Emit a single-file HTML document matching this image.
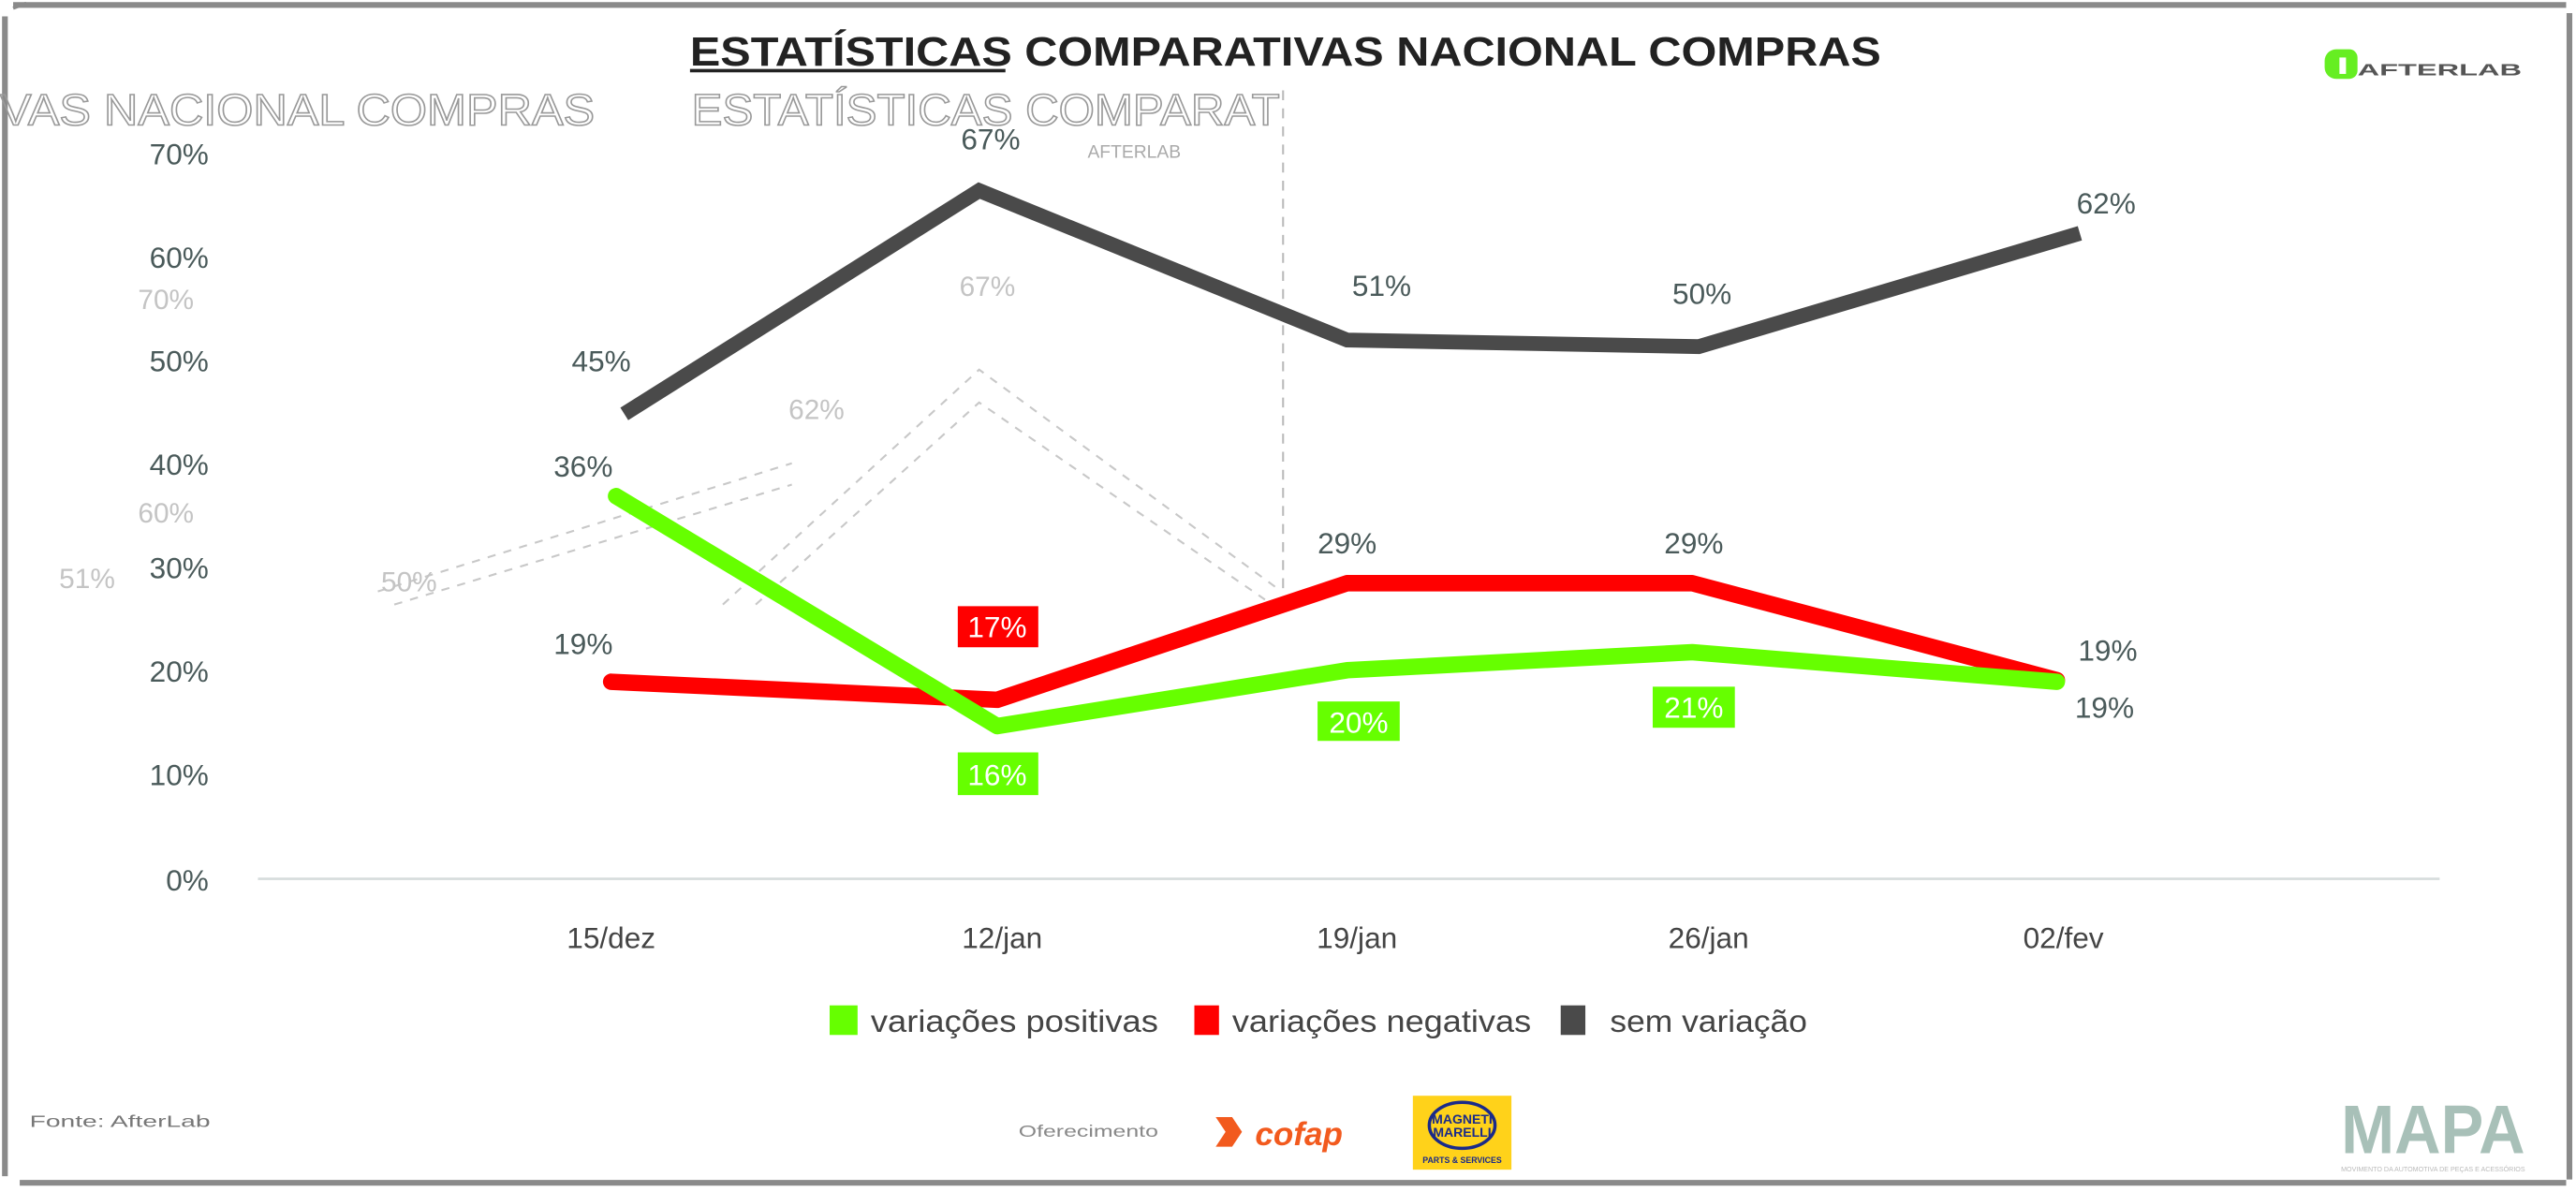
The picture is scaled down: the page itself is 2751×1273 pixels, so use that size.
<!DOCTYPE html>
<html><head><meta charset="utf-8"><style>
html,body{margin:0;padding:0;background:#fff;}
svg{display:block;}
text{font-family:"Liberation Sans",sans-serif;}
</style></head><body>
<svg width="2751" height="1273" viewBox="0 0 1568 725.6" preserveAspectRatio="none" xmlns="http://www.w3.org/2000/svg">
<rect x="0" y="0" width="1568" height="725.6" fill="#fff"/>
<path d="M8,3 H1562 M1564,8 V718 M1562,720 H12 M3,716 V10" stroke="#8a8a8a" stroke-width="3.5" fill="none"/>
<path d="M8,5 L16,2" stroke="#8a8a8a" stroke-width="2"/>
<text x="0" y="76" font-size="27" fill="none" stroke="#999" stroke-width="0.9" textLength="362" lengthAdjust="spacingAndGlyphs">VAS NACIONAL COMPRAS</text>
<text x="421" y="76" font-size="27" fill="none" stroke="#999" stroke-width="0.9" textLength="358" lengthAdjust="spacingAndGlyphs">ESTATÍSTICAS COMPARAT</text>
<text x="662" y="96" font-size="11" fill="#aaa">AFTERLAB</text>
<line x1="781" y1="55" x2="781" y2="360" stroke="#bbb" stroke-width="1.2" stroke-dasharray="6,5"/>
<g stroke="#c8c8c8" stroke-width="1.2" stroke-dasharray="5,5" fill="none">
<path d="M230,360 L482,282"/><path d="M240,368 L482,295"/>
<path d="M440,368 L596,225 L780,360"/><path d="M460,368 L596,245 L770,365"/>
</g>
<g fill="#c4c4c4" font-size="17">
<text x="84" y="188">70%</text><text x="84" y="318">60%</text>
<text x="36" y="358">51%</text><text x="232" y="360">50%</text>
<text x="480" y="255">62%</text><text x="584" y="180">67%</text>
</g>
<text x="420" y="40" font-size="25" font-weight="bold" fill="#222" textLength="725" lengthAdjust="spacingAndGlyphs">ESTATÍSTICAS COMPARATIVAS NACIONAL COMPRAS</text>
<line x1="420" y1="43" x2="612" y2="43" stroke="#222" stroke-width="2"/>
<path d="M1422,30 h8 a5,5 0 0 1 5,5 v8 a5,5 0 0 1 -5,5 h-8 a7,7 0 0 1 -7,-7 v-4 a7,7 0 0 1 7,-7z" fill="#66ee22"/>
<rect x="1424" y="35" width="4" height="10" fill="#fff"/>
<text x="1435" y="46" font-size="10" font-weight="bold" fill="#555" textLength="100" lengthAdjust="spacingAndGlyphs">AFTERLAB</text>
<g font-size="18" fill="#4a5a5a" text-anchor="end">
<text x="127" y="100">70%</text><text x="127" y="163">60%</text><text x="127" y="226">50%</text>
<text x="127" y="289">40%</text><text x="127" y="352">30%</text><text x="127" y="415">20%</text>
<text x="127" y="478">10%</text><text x="127" y="542">0%</text>
</g>
<line x1="157" y1="535" x2="1485" y2="535" stroke="#d6dcdc" stroke-width="1.5"/>
<g font-size="18" fill="#444" text-anchor="middle">
<text x="372" y="577">15/dez</text><text x="610" y="577">12/jan</text><text x="826" y="577">19/jan</text>
<text x="1040" y="577">26/jan</text><text x="1256" y="577">02/fev</text>
</g>
<polyline points="380,252 596,116 820,207 1034,211 1266,142" fill="none" stroke="#4a4a4a" stroke-width="9"/>
<polyline points="372,415 607,426 820,355 1030,355 1252,414" fill="none" stroke="#ff0000" stroke-width="10" stroke-linecap="round" stroke-linejoin="round"/>
<polyline points="375,302 607,442 820,408 1030,397 1252,415" fill="none" stroke="#66ff00" stroke-width="10" stroke-linecap="round" stroke-linejoin="round"/>
<g font-size="18" fill="#4a5a5a" text-anchor="middle">
<text x="366" y="226">45%</text><text x="603" y="91">67%</text><text x="841" y="180">51%</text>
<text x="1036" y="185">50%</text><text x="1282" y="130">62%</text>
<text x="355" y="290">36%</text><text x="355" y="398">19%</text>
<text x="820" y="337">29%</text><text x="1031" y="337">29%</text>
<text x="1283" y="402">19%</text><text x="1281" y="437">19%</text>
</g>
<rect x="583" y="369" width="49" height="25" fill="#ff0000"/>
<rect x="583" y="458" width="49" height="26" fill="#66ff00"/>
<rect x="802" y="427" width="50" height="24" fill="#66ff00"/>
<rect x="1006" y="418" width="50" height="25" fill="#66ff00"/>
<g font-size="18" fill="#fff" text-anchor="middle">
<text x="607" y="388">17%</text><text x="607" y="478">16%</text>
<text x="827" y="446">20%</text><text x="1031" y="437">21%</text>
</g>
<rect x="505" y="612" width="17" height="18" fill="#66ff00"/>
<rect x="727" y="612" width="15" height="18" fill="#ff0000"/>
<rect x="950" y="612" width="15" height="18" fill="#4a4a4a"/>
<g font-size="19" fill="#444">
<text x="530" y="628" textLength="175" lengthAdjust="spacingAndGlyphs">variações positivas</text>
<text x="750" y="628" textLength="182" lengthAdjust="spacingAndGlyphs">variações negativas</text>
<text x="980" y="628" textLength="120" lengthAdjust="spacingAndGlyphs">sem variação</text>
</g>
<text x="18" y="686" font-size="10" fill="#777" textLength="110" lengthAdjust="spacingAndGlyphs">Fonte: AfterLab</text>
<text x="620" y="692" font-size="10" fill="#888" textLength="85" lengthAdjust="spacingAndGlyphs">Oferecimento</text>
<path d="M740,680 h10 l6,9 l-6,9 h-10 l6,-9z" fill="#f25a1e"/>
<text x="764" y="697" font-size="20" font-weight="bold" font-style="italic" fill="#f25a1e">cofap</text>
<rect x="860" y="667" width="60" height="45" fill="#ffd21a"/>
<ellipse cx="890" cy="685" rx="20" ry="14" fill="none" stroke="#1a2a8a" stroke-width="2"/>
<text x="890" y="684" font-size="8" font-weight="bold" fill="#1a2a8a" text-anchor="middle">MAGNETI</text>
<text x="890" y="692" font-size="8" font-weight="bold" fill="#1a2a8a" text-anchor="middle">MARELLI</text>
<text x="890" y="708" font-size="5" font-weight="bold" fill="#1a2a8a" text-anchor="middle">PARTS &amp; SERVICES</text>
<text x="1425" y="702" font-size="42" font-weight="bold" fill="#a8c0b8" textLength="112" lengthAdjust="spacingAndGlyphs">MAPA</text>
<text x="1425" y="713" font-size="4" fill="#bbb" textLength="112" lengthAdjust="spacingAndGlyphs">MOVIMENTO DA AUTOMOTIVA DE PEÇAS E ACESSÓRIOS</text>
</svg>
</body></html>
